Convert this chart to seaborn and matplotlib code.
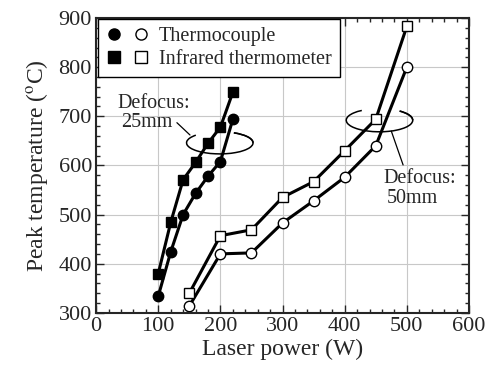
import numpy as np
import pandas as pd
import matplotlib
matplotlib.use("Agg")
import matplotlib.pyplot as plt
from matplotlib.patches import Arc
from matplotlib.lines import Line2D
from matplotlib.legend_handler import HandlerTuple
from matplotlib.ticker import MultipleLocator
import seaborn as sns

# data
power_25 = [100, 120, 140, 160, 180, 200, 220]
tc_25 = [334, 424, 500, 543, 578, 608, 694]
ir_25 = [380, 484, 571, 606, 645, 678, 749]

power_50 = [150, 200, 250, 300, 350, 400, 450, 500]
tc_50 = [314, 420, 422, 483, 528, 576, 640, 800]
ir_50 = [340, 457, 469, 535, 567, 630, 694, 883]

sns.set_style("ticks")
plt.rcParams['font.family'] = ['Liberation Serif', 'DejaVu Serif']
plt.rcParams['mathtext.fontset'] = 'stix'

fig = plt.figure(figsize=(4.88, 3.76), dpi=100)
ax = fig.add_axes([0.197, 0.168, 0.764, 0.784])

# grid
ax.grid(True, color='#c8c8c8', lw=0.8, zorder=0)

# ellipses marking the two groups (gaps where the lines pass)
for (cx, cy, w, h, gaps) in [(199, 646, 107, 45, [(158, 402), (0, 42)]),
                             (456, 692, 107, 47, [(145, 390), (0, 30)])]:
    for t1, t2 in gaps:
        ax.add_patch(Arc((cx, cy), w, h, theta1=t1, theta2=t2, color='black', lw=1.1, zorder=2))

style = dict(color='black', lw=2.2, ms=7.5, mec='black', mew=1.0, zorder=3)
sns.lineplot(x=power_25, y=tc_25, ax=ax, marker='o', mfc='black', **style)
sns.lineplot(x=power_25, y=ir_25, ax=ax, marker='s', mfc='black', **style)
sns.lineplot(x=power_50, y=tc_50, ax=ax, marker='o', mfc='white', **style)
sns.lineplot(x=power_50, y=ir_50, ax=ax, marker='s', mfc='white', **style)

ax.set_xlim(0, 600)
ax.set_ylim(300, 900)
ax.xaxis.set_major_locator(MultipleLocator(100))
ax.xaxis.set_minor_locator(MultipleLocator(20))
ax.yaxis.set_major_locator(MultipleLocator(100))
ax.yaxis.set_minor_locator(MultipleLocator(20))
ax.tick_params(which='both', direction='in', top=True, right=True, width=1.0, labelsize=16)
ax.tick_params(which='major', length=6, pad=3)
ax.tick_params(which='minor', length=3)
for s in ax.spines.values():
    s.set_linewidth(1.5)
    s.set_zorder(5)

ax.set_xlabel('Laser power (W)', fontsize=17, labelpad=2)
ax.set_ylabel(r'Peak temperature ($^{\rm o}$C)', fontsize=17, labelpad=6)

# annotations
ax.text(34, 727, 'Defocus:', fontsize=14.5, va='center', ha='left')
ax.text(41, 687, '25mm', fontsize=14.5, va='center', ha='left')
ax.plot([130, 151], [687, 662], color='black', lw=0.9)
ax.text(462, 574, 'Defocus:', fontsize=14.5, va='center', ha='left')
ax.text(467, 533, '50mm', fontsize=14.5, va='center', ha='left')
ax.plot([475, 494], [670, 601], color='black', lw=0.9)

# legend
mk = dict(color='black', ls='none', ms=8, mec='black')
h_tc = (Line2D([], [], marker='o', mfc='black', **mk), Line2D([], [], marker='o', mfc='white', **mk))
h_ir = (Line2D([], [], marker='s', mfc='black', **mk), Line2D([], [], marker='s', mfc='white', **mk))
leg = ax.legend([h_tc, h_ir], ['Thermocouple', 'Infrared thermometer'],
                handler_map={tuple: HandlerTuple(ndivide=None, pad=0.6)},
                loc='upper left', bbox_to_anchor=(0.006, 0.998), borderaxespad=0,
                fontsize=14.5, fancybox=False, framealpha=1, edgecolor='black',
                handlelength=2.1, handletextpad=0.5, labelspacing=0.2, borderpad=0.4)
leg.get_frame().set_linewidth(1.0)
leg.set_zorder(6)

fig.savefig('out.png', dpi=100)
